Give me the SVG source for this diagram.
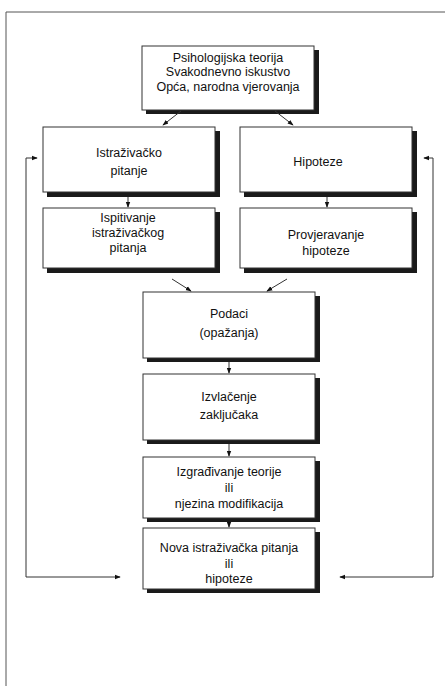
<svg xmlns="http://www.w3.org/2000/svg" width="445" height="686" viewBox="0 0 445 686">
<style>
.sh{fill:#1a1a1a}
.bx{fill:#ffffff;stroke:#333;stroke-width:1}
text{font-family:"Liberation Sans Narrow","Liberation Sans",Arial,sans-serif;font-size:12.5px;fill:#111;text-anchor:middle}
.ln{fill:none;stroke:#333;stroke-width:1}
.fr{fill:none;stroke:#555;stroke-width:1}
</style>
<defs>
<marker id="ah" viewBox="0 0 8 8" refX="7" refY="4" markerWidth="6" markerHeight="6" orient="auto-start-reverse" markerUnits="userSpaceOnUse">
<path d="M0,1 L8,4 L0,7 Z" fill="#111"/>
</marker>
</defs>
<rect width="445" height="686" fill="#fff"/>
<g id="frame">
<path class="fr" d="M445,12 L6,12 L6,686"/>
</g>
<g id="n-top">
<rect class="sh" x="146" y="50" width="173" height="64"/>
<rect class="bx" x="142" y="46" width="172" height="64"/>
<text x="228" y="62">Psihologijska teorija</text>
<text x="228" y="76">Svakodnevno iskustvo</text>
<text x="228" y="91">Opća, narodna vjerovanja</text>
</g>
<g id="n-istr">
<rect class="sh" x="47" y="131" width="173" height="66"/>
<rect class="bx" x="43" y="127" width="172" height="65"/>
<text x="129" y="157">Istraživačko</text>
<text x="129" y="175">pitanje</text>
</g>
<g id="n-hip">
<rect class="sh" x="244" y="131" width="173" height="66"/>
<rect class="bx" x="240" y="127" width="172" height="65"/>
<text x="318" y="166">Hipoteze</text>
</g>
<g id="n-ispit">
<rect class="sh" x="47" y="212" width="173" height="61"/>
<rect class="bx" x="43" y="208" width="172" height="60"/>
<text x="128" y="222">Ispitivanje</text>
<text x="128" y="237">istraživačkog</text>
<text x="128" y="252">pitanja</text>
</g>
<g id="n-provj">
<rect class="sh" x="244" y="212" width="173" height="61"/>
<rect class="bx" x="240" y="208" width="172" height="60"/>
<text x="326" y="239">Provjeravanje</text>
<text x="326" y="255">hipoteze</text>
</g>
<g id="n-podaci">
<rect class="sh" x="147" y="296" width="173" height="66"/>
<rect class="bx" x="143" y="292" width="172" height="66"/>
<text x="229" y="318">Podaci</text>
<text x="229" y="337">(opažanja)</text>
</g>
<g id="n-izvl">
<rect class="sh" x="147" y="378" width="173" height="66"/>
<rect class="bx" x="143" y="374" width="172" height="66"/>
<text x="229" y="401">Izvlačenje</text>
<text x="229" y="419">zaključaka</text>
</g>
<g id="n-izgr">
<rect class="sh" x="147" y="461" width="173" height="61"/>
<rect class="bx" x="143" y="457" width="172" height="61"/>
<text x="229" y="476">Izgrađivanje teorije</text>
<text x="229" y="492">ili</text>
<text x="229" y="508">njezina modifikacija</text>
</g>
<g id="n-nova">
<rect class="sh" x="147" y="532" width="173" height="61"/>
<rect class="bx" x="143" y="528" width="172" height="61"/>
<text x="229" y="552">Nova istraživačka pitanja</text>
<text x="229" y="568">ili</text>
<text x="229" y="583">hipoteze</text>
</g>
<g id="connectors">
<line class="ln" x1="181" y1="111" x2="163" y2="125" marker-end="url(#ah)"/>
<line class="ln" x1="275" y1="111" x2="293" y2="125" marker-end="url(#ah)"/>
<line class="ln" x1="128" y1="197" x2="128" y2="207" marker-end="url(#ah)"/>
<line class="ln" x1="327" y1="197" x2="327" y2="207" marker-end="url(#ah)"/>
<line class="ln" x1="172" y1="279" x2="191" y2="291" marker-end="url(#ah)"/>
<line class="ln" x1="287" y1="279" x2="267" y2="291" marker-end="url(#ah)"/>
<line class="ln" x1="229" y1="362" x2="229" y2="373" marker-end="url(#ah)"/>
<line class="ln" x1="229" y1="444" x2="229" y2="456" marker-end="url(#ah)"/>
<line class="ln" x1="229" y1="522" x2="229" y2="527" marker-end="url(#ah)"/>
<polyline class="ln" points="37,158 26,158 26,577 120,577" marker-start="url(#ah)" marker-end="url(#ah)"/>
<polyline class="ln" points="424,158 433,158 433,577 340,577" marker-start="url(#ah)" marker-end="url(#ah)"/>
</g>
</svg>
